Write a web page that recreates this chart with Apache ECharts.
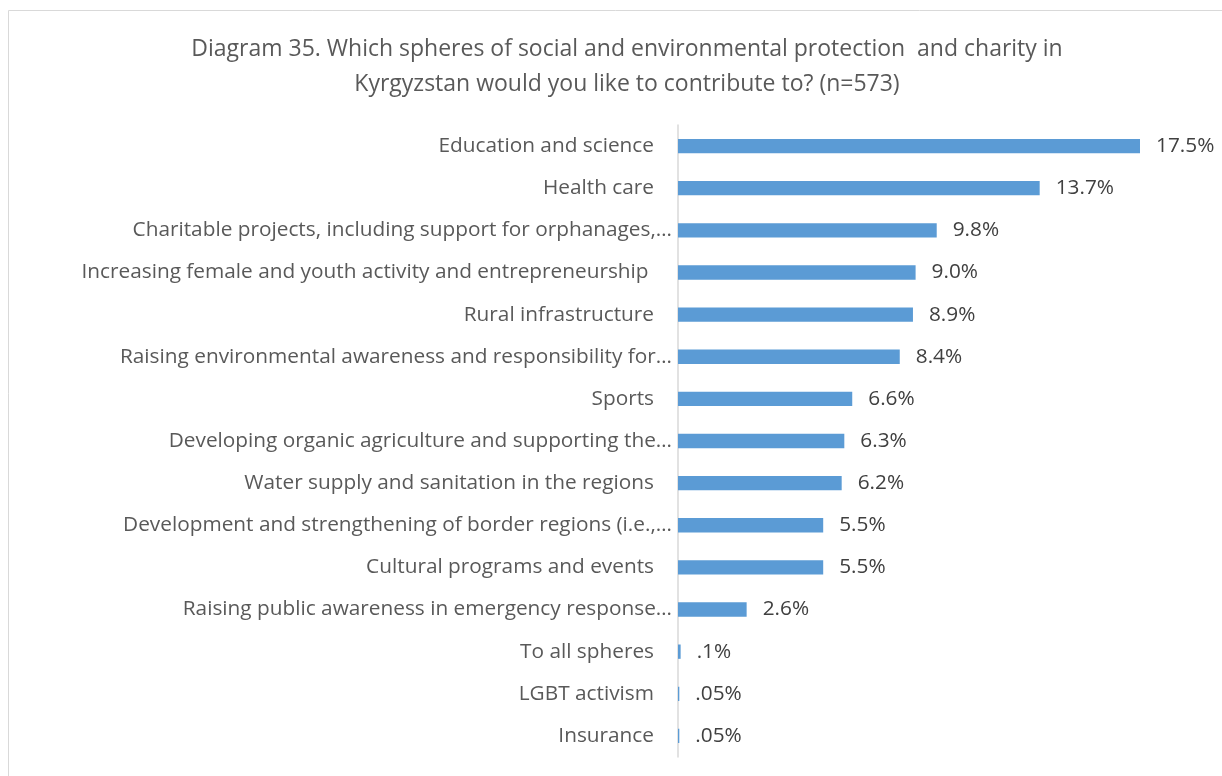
<!DOCTYPE html>
<html>
<head>
<meta charset="utf-8">
<script src="https://cdn.jsdelivr.net/npm/echarts@6/dist/echarts.min.js"></script>
<style>
  html, body { margin: 0; padding: 0; background: #fff; }
  #chart { width: 1222px; height: 776px; }
</style>
</head>
<body>
<div id="chart"></div>
<script>
// categories, top to bottom
const categories = [
  'Education and science',
  'Health care',
  'Charitable projects, including support for orphanages,…',
  'Increasing female and youth activity and entrepreneurship ',
  'Rural infrastructure',
  'Raising environmental awareness and responsibility for…',
  'Sports',
  'Developing organic agriculture and supporting the…',
  'Water supply and sanitation in the regions',
  'Development and strengthening of border regions (i.e.,…',
  'Cultural programs and events',
  'Raising public awareness in emergency response…',
  'To all spheres',
  'LGBT activism',
  'Insurance'
]
const shares = [17.5, 13.7, 9.8, 9.0, 8.9, 8.4, 6.6, 6.3, 6.2, 5.5, 5.5, 2.6, 0.1, 0.05, 0.05]
const shareLabels = ['17.5%', '13.7%', '9.8%', '9.0%', '8.9%', '8.4%', '6.6%', '6.3%', '6.2%', '5.5%', '5.5%', '2.6%', '.1%', '.05%', '.05%']

const font = '"Open Sans", "DejaVu Sans", sans-serif'
const labelSize = 20.8

const chart = echarts.init(document.getElementById('chart'))
chart.setOption({
  animation: false,
  title: {
    text: 'Diagram 35. Which spheres of social and environmental protection  and charity in\nKyrgyzstan would you like to contribute to? (n=573)',
    left: 622,
    top: 27,
    textAlign: 'center',
    textStyle: {
      fontFamily: font,
      fontSize: 23,
      fontWeight: 'normal',
      color: '#595959',
      lineHeight: 35
    }
  },
  graphic: [{
    type: 'rect',
    shape: { x: 8.5, y: 10.5, width: 1240, height: 790 },
    style: { fill: 'none', stroke: '#d9d9d9', lineWidth: 1 },
    silent: true
  }],
  grid: {
    left: 678,
    right: 16,
    top: 125,
    bottom: 19
  },
  xAxis: {
    type: 'value',
    min: 0,
    max: 20,
    show: false
  },
  yAxis: {
    type: 'category',
    data: categories,
    inverse: true,
    axisLine: { show: true, lineStyle: { color: '#d9d9d9', width: 1.5 } },
    axisTick: { show: false },
    axisLabel: {
      margin: 6,
      fontFamily: font,
      fontSize: labelSize,
      color: '#595959',
      formatter: function (v) {
        return v.endsWith('…') ? '{c|' + v + '}' : '{f|' + v + '}'
      },
      rich: {
        c: { fontFamily: font, fontSize: labelSize, color: '#595959' },
        f: { fontFamily: font, fontSize: labelSize, color: '#595959', padding: [0, 18, 0, 0] }
      }
    }
  },
  series: [{
    type: 'bar',
    data: shares,
    barCategoryGap: '66%',
    itemStyle: { color: '#5b9bd5' },
    label: {
      show: true,
      position: 'right',
      distance: 16,
      fontFamily: font,
      fontSize: labelSize,
      color: '#404040',
      formatter: function (p) { return shareLabels[p.dataIndex] }
    }
  }]
})
window.addEventListener('resize', () => chart.resize())
</script>
</body>
</html>
